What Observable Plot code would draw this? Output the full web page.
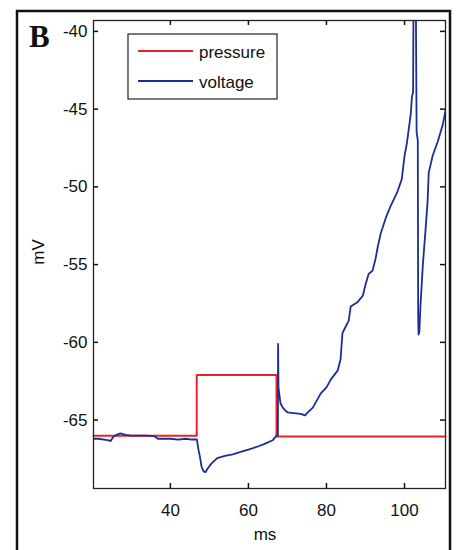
<!DOCTYPE html>
<html><head><meta charset="utf-8">
<script src="https://cdn.jsdelivr.net/npm/d3@7"></script>
<script src="https://cdn.jsdelivr.net/npm/@observablehq/plot@0.6"></script>
<style>body{margin:0;background:#fff}</style>
</head><body><div id="chart"></div>
<script>
// ---- data ----
const timeV = [20.3, 21.5, 23, 24.2, 24.7, 25.3, 26.2, 27.2, 28.5, 30, 32, 34, 36, 36.8, 38, 40, 42, 44, 45.5, 46.8,
  47.2, 47.6, 48.0, 48.5, 49.0, 49.6, 50.5, 52, 54, 56, 58, 60, 62.4, 64, 66.2, 67.2, 67.55, 67.6, 67.7, 68.2,
  68.8, 69.5, 70.0, 71.6, 73.4, 74.5, 75.2, 76.5, 78.5, 80, 81.1, 82.9, 83.6, 84.1, 85.7, 86.2, 88.0, 89.3, 90.1, 90.8,
  91.8, 92.6, 93.1, 93.9, 95.2, 96.5, 98.2, 99.3, 100.0, 100.6, 101.6, 101.9, 102.2, 102.3, 102.9, 103.1, 103.4, 103.5, 103.6, 103.8,
  104.1, 104.7, 105.4, 105.9, 106.2, 107.2, 108.5, 109.8, 110.5];
const voltage = [-66.2, -66.2, -66.25, -66.3, -66.35, -66.1, -65.95, -65.85, -65.95, -66.0, -66.0, -66.0, -66.05, -66.2, -66.2, -66.2, -66.25, -66.2, -66.25, -66.25,
  -66.9, -67.4, -68.0, -68.3, -68.35, -68.1, -67.8, -67.45, -67.3, -67.2, -67.05, -66.9, -66.7, -66.55, -66.3, -66.0, -66.0, -60.1, -62.9, -63.9,
  -64.2, -64.4, -64.5, -64.55, -64.6, -64.7, -64.5, -64.2, -63.3, -62.9, -62.4, -61.8, -61.1, -59.4, -58.6, -57.7, -57.4, -57.0, -56.2, -55.6,
  -55.4, -54.6, -53.9, -53.0, -52.0, -51.2, -50.3, -49.5, -48.0, -47.2, -45.3, -44.2, -43.9, -38, -38, -46.5, -47.0, -58.3, -59.5, -59.3,
  -57.6, -55.0, -52.7, -51.0, -49.1, -48.0, -47.1, -46.0, -45.1];
const timeP = [20.3, 46.75, 46.75, 67.2, 67.2, 110.5];
const pressure = [-66.0, -66.0, -62.1, -62.1, -66.05, -66.05];
const xTicks = [40, 60, 80, 100];
const yTicks = [-65, -60, -55, -50, -45, -40];
const seriesNames = ["pressure", "voltage"];
const seriesColors = ["#e3242b", "#1c2e95"];
const xLabel = "ms", yLabel = "mV", panelLetter = "B";

const vData = timeV.map((t, i) => ({t, v: voltage[i]}));
const pData = timeP.map((t, i) => ({t, v: pressure[i]}));

const font = "'Liberation Sans', Arial, Helvetica, sans-serif";
const W = 458, H = 550, TK = 5;
const mL = 93, mT = 20, mR = 13, mB = 62;
const innerW = W - mL - mR, innerH = H - mT - mB;
const tickStyle = {stroke: "#111", strokeWidth: 1.5};
const plot = Plot.plot({
  width: W, height: H,
  marginLeft: mL, marginTop: mT, marginRight: mR, marginBottom: mB,
  style: {fontFamily: font, fontSize: "17px", background: "#fff", color: "#111"},
  x: {domain: [20.3, 110.5], label: null},
  y: {domain: [-69.4, -39.3], label: null},
  marks: [
    Plot.line(pData, {x: "t", y: "v", stroke: seriesColors[0], strokeWidth: 2}),
    Plot.line(vData, {x: "t", y: "v", stroke: seriesColors[1], strokeWidth: 1.8, clip: true}),
    Plot.frame({stroke: "#222", strokeWidth: 1.3}),
    // inward tick marks on all four sides (MATLAB box style)
    Plot.tickX(xTicks, {x: d => d, insetTop: innerH - TK, ...tickStyle}),
    Plot.tickX(xTicks, {x: d => d, insetBottom: innerH - TK, ...tickStyle}),
    Plot.tickY(yTicks, {y: d => d, insetRight: innerW - TK, ...tickStyle}),
    Plot.tickY(yTicks, {y: d => d, insetLeft: innerW - TK, ...tickStyle}),
    Plot.axisX({anchor: "bottom", ticks: xTicks, tickSize: 0, tickPadding: 15, tickFormat: d => String(d), label: null}),
    Plot.axisY({anchor: "left", ticks: yTicks, tickSize: 0, tickPadding: 6, tickFormat: d => String(d), label: null})
  ]
});

const svg = d3.select(plot);
// outer panel frame
svg.append("rect").attr("x", 17).attr("y", 11).attr("width", 433).attr("height", 620)
  .attr("fill", "none").attr("stroke", "#111").attr("stroke-width", 2.5);
// panel letter
svg.append("text").attr("x", 29).attr("y", 47).attr("text-anchor", "start").text(panelLetter)
  .attr("font-family", "'Liberation Serif', 'Times New Roman', serif").attr("font-weight", "bold")
  .attr("font-size", 31).attr("fill", "#111");
// axis labels
svg.append("text").attr("x", 265).attr("y", 540).attr("text-anchor", "middle")
  .attr("font-family", font).attr("font-size", 17).attr("fill", "#111").text(xLabel);
svg.append("text").attr("transform", "translate(44,252) rotate(-90)").attr("text-anchor", "middle")
  .attr("font-family", font).attr("font-size", 17).attr("fill", "#111").text(yLabel);
// legend
const lg = svg.append("g");
lg.append("rect").attr("x", 128).attr("y", 34).attr("width", 149).attr("height", 65)
  .attr("fill", "#fff").attr("stroke", "#222").attr("stroke-width", 1.2);
seriesNames.forEach((name, i) => {
  const y = 51 + i * 30;
  lg.append("line").attr("x1", 138).attr("x2", 193).attr("y1", y).attr("y2", y)
    .attr("stroke", seriesColors[i]).attr("stroke-width", 2);
  lg.append("text").attr("x", 199).attr("y", y + 7).attr("text-anchor", "start").text(name)
    .attr("font-family", font).attr("font-size", 17).attr("fill", "#111");
});

document.getElementById("chart").appendChild(plot);
</script>
</body></html>
